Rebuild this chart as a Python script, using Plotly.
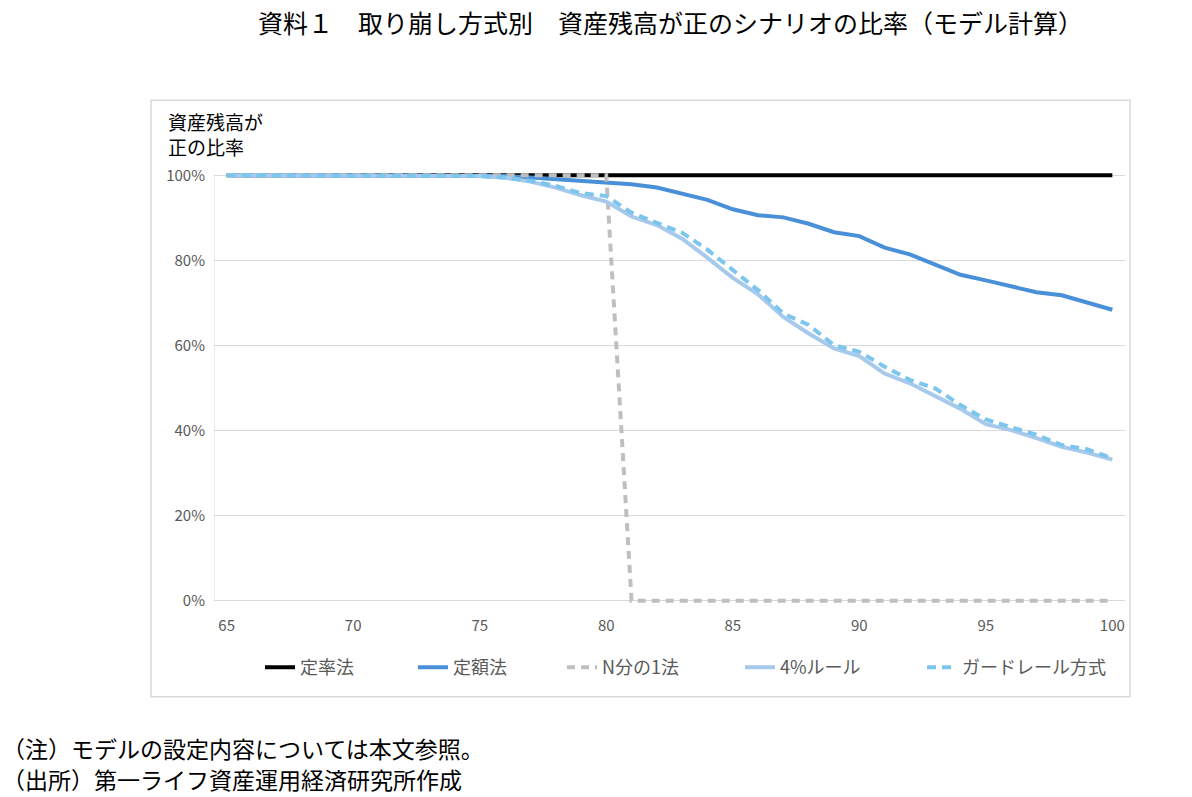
import plotly.graph_objects as go

ages = list(range(65, 101))

teiritsu = [1.0] * 36

teigaku = [1.0] * 11 + [
    0.998, 0.995, 0.991, 0.987, 0.984, 0.979, 0.971, 0.957, 0.942, 0.920,
    0.906, 0.901, 0.886, 0.866, 0.857, 0.830, 0.814, 0.790, 0.766, 0.753,
    0.739, 0.725, 0.718, 0.702, 0.684]

n_bun = [1.0] * 16 + [0.0] * 20

rule4 = [1.0] * 9 + [
    0.999, 0.998, 0.994, 0.985, 0.971, 0.953, 0.938, 0.903, 0.883, 0.851,
    0.806, 0.759, 0.720, 0.667, 0.628, 0.593, 0.575, 0.534, 0.511, 0.480,
    0.451, 0.415, 0.401, 0.382, 0.362, 0.348, 0.332]

guardrail = [1.0] * 9 + [
    0.999, 0.998, 0.995, 0.987, 0.975, 0.958, 0.951, 0.912, 0.888, 0.865,
    0.825, 0.778, 0.730, 0.675, 0.648, 0.601, 0.585, 0.550, 0.519, 0.499,
    0.460, 0.426, 0.409, 0.390, 0.366, 0.356, 0.335]

series_names = ["定率法", "定額法", "N分の1法", "4%ルール", "ガードレール方式"]
x_ticks = [65, 70, 75, 80, 85, 90, 95, 100]
y_ticks = [0, 0.2, 0.4, 0.6, 0.8, 1.0]
y_ticktext = ["0%", "20%", "40%", "60%", "80%", "100%"]

FONT = "Noto Sans CJK JP"
W, H = 1192, 797
Y0PX, Y1PX = 601, 175          # pixel rows of 0% and 100%
PAD = 0.01                     # extra range so edge lines are not clipped
UNIT = Y0PX - Y1PX
L, R = 214, 67
T = Y1PX - PAD * UNIT
B = H - (Y0PX + PAD * UNIT)
PW, PH = W - L - R, H - T - B


def px_x(p):
    return (p - L) / PW


def px_y(p):
    return (H - B - p) / PH


styles = [
    dict(color="#000000", width=4),
    dict(color="#4A90D9", width=4),
    dict(color="#BFBFBF", width=4, dash="8px,6px"),
    dict(color="#A6C9EC", width=4),
    dict(color="#7CC6EE", width=4, dash="9px,6px"),
]
data = [teiritsu, teigaku, n_bun, rule4, guardrail]
legend_ids = ["legend", "legend2", "legend3", "legend4", "legend5"]
legend_text_x = [300, 453, 602, 780, 962]   # pixel x where each legend label starts

fig = go.Figure()
for name, ys, st, lg in zip(series_names, data, styles, legend_ids):
    fig.add_trace(go.Scatter(x=ages, y=ys, mode="lines", name=name, line=st,
                             legend=lg))

legend_common = dict(orientation="h", xanchor="left", y=px_y(668), yanchor="middle",
                     bgcolor="rgba(0,0,0,0)",
                     font=dict(size=18, color="#595959", family=FONT))
legend_layout = {lg: dict(x=px_x(tx - 40), **legend_common)
                 for lg, tx in zip(legend_ids, legend_text_x)}

fig.update_layout(
    width=W, height=H,
    margin=dict(l=L, r=R, t=T, b=B, autoexpand=False),
    paper_bgcolor="white", plot_bgcolor="white",
    font=dict(family=FONT, color="#595959"),
    showlegend=True,
    xaxis=dict(range=[64.5, 100.5], tickvals=x_ticks, showgrid=False,
               showline=False, ticks="",
               zeroline=False, tickfont=dict(size=15, color="#595959"),
               ticklabelstandoff=10),
    yaxis=dict(range=[-PAD, 1.0 + PAD], tickvals=y_ticks, ticktext=y_ticktext,
               showgrid=True, gridcolor="#D9D9D9", gridwidth=1,
               showline=False, ticks="",
               zeroline=False, tickfont=dict(size=15, color="#595959"),
               ticklabelstandoff=8),
    **legend_layout,
)

# y axis line (from 0% to 100%)
fig.add_shape(type="line", xref="x", yref="y", x0=64.5, x1=64.5, y0=0, y1=1.0,
              line=dict(color="#D9D9D9", width=1), layer="below")

# chart frame
fig.add_shape(type="rect", xref="paper", yref="paper",
              x0=px_x(151), x1=px_x(1130), y0=px_y(697), y1=px_y(100),
              line=dict(color="#D9D9D9", width=1.5), fillcolor="rgba(0,0,0,0)",
              layer="below")

annos = [
    dict(text="資料１　取り崩し方式別　資産残高が正のシナリオの比率（モデル計算）",
         x=px_x(670), y=px_y(22), xanchor="center", yanchor="middle",
         font=dict(size=25, color="#000000", family=FONT)),
    dict(text="資産残高が", x=px_x(166), y=px_y(121), xanchor="left", yanchor="middle",
         font=dict(size=19, color="#000000", family=FONT)),
    dict(text="正の比率", x=px_x(166), y=px_y(146), xanchor="left", yanchor="middle",
         font=dict(size=19, color="#000000", family=FONT)),
    dict(text="（注）モデルの設定内容については本文参照。", x=px_x(0), y=px_y(748),
         xanchor="left", yanchor="middle",
         font=dict(size=23, color="#000000", family=FONT)),
    dict(text="（出所）第一ライフ資産運用経済研究所作成", x=px_x(0), y=px_y(779),
         xanchor="left", yanchor="middle",
         font=dict(size=23, color="#000000", family=FONT)),
]
for a in annos:
    fig.add_annotation(xref="paper", yref="paper", showarrow=False, **a)

fig.write_html("out.html")
